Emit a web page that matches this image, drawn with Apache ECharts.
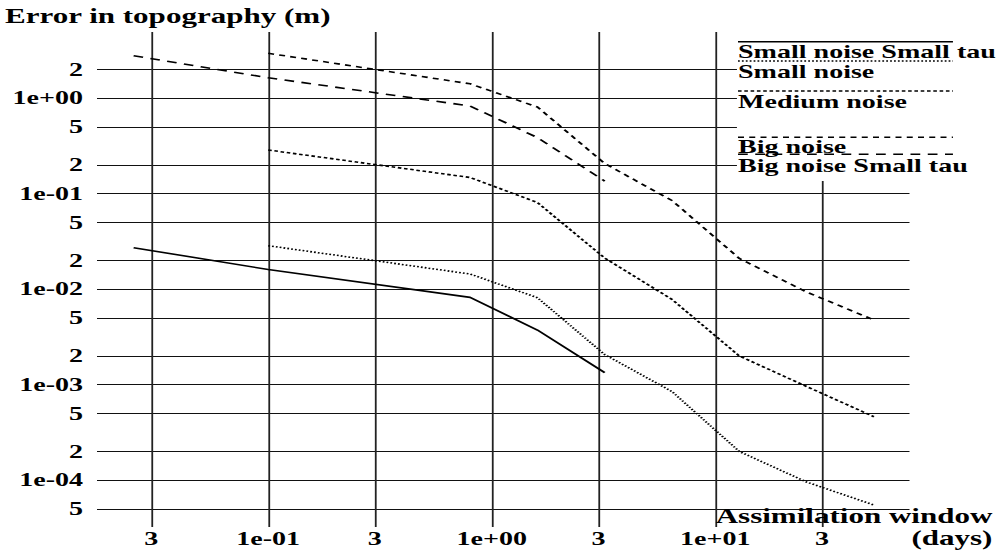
<!DOCTYPE html>
<html>
<head>
<meta charset="utf-8">
<script src="https://cdn.jsdelivr.net/npm/echarts@6/dist/echarts.min.js"></script>
<style>
  html, body { margin: 0; padding: 0; background: #fff; overflow: hidden; }
  /* the figure is laid out narrow and widened horizontally */
  #chart { width: 665.333px; height: 554px; transform: scaleX(1.5); transform-origin: 0 0; }
</style>
</head>
<body>
<div id="chart"></div>
<script>
// Assimilation window lengths (days)
const shortRunDays = [0.025, 0.1, 0.8, 1.6, 3.2];
const windowDays = [0.1, 0.8, 1.6, 3.2, 6.4, 12.8, 25.6, 51.2];

// Error in topography (m)
const smallNoiseSmallTau = [0.0271, 0.0160, 0.00818, 0.00372, 0.00133];
const smallNoise = [0.0284, 0.01436, 0.00811, 0.00206, 0.000844, 0.000199, 0.0000953, 0.0000547];
const mediumNoise = [0.2855, 0.1471, 0.0805, 0.0211, 0.00778, 0.00199, 0.000953, 0.00046];
const bigNoise = [2.94, 1.408, 0.805, 0.206, 0.0845, 0.0209, 0.0093, 0.00474];
const bigNoiseSmallTau = [2.77, 1.63, 0.825, 0.385, 0.135];

const seriesNames = ['Small noise Small tau', 'Small noise', 'Medium noise', 'Big noise', 'Big noise Small tau'];

// tick positions
const xTickValues = [0.03, 0.1, 0.3, 1, 3, 10, 30];
const yTickValues = [2, 1, 0.5, 0.2, 0.1, 0.05, 0.02, 0.01, 0.005, 0.002, 0.001, 0.0005, 0.0002, 0.0001, 0.00005];

const FONT = '"Liberation Serif", "Times New Roman", serif';

// "1e-02" for powers of ten, leading digit otherwise
function sciLabel(v) {
  const e = Math.floor(Math.log10(v) + 1e-9);
  const m = Math.round(v / Math.pow(10, e));
  if (m !== 1) return String(m);
  const a = Math.abs(e);
  return '1e' + (e < 0 ? '-' : '+') + (a < 10 ? '0' : '') + a;
}

const pairs = (xs, ys) => xs.map((x, i) => [x, ys[i]]);

const seriesData = [
  pairs(shortRunDays, smallNoiseSmallTau),
  pairs(windowDays, smallNoise),
  pairs(windowDays, mediumNoise),
  pairs(windowDays, bigNoise),
  pairs(shortRunDays, bigNoiseSmallTau)
];
const lineDashes = ['solid', [1.2, 1.4], [2.4, 1.8], [4, 3.5], [6.5, 5]];

const chart = echarts.init(document.getElementById('chart'), null, { renderer: 'svg' });

// legend: sample line drawn above each label
const legendLineY = [41.7, 61, 91, 137.3, 154.3];
const legendTextY = [52, 71.7, 101.7, 147, 166];
const legendLeft = 492, legendRight = 635.3;
const legendGraphics = [{
  type: 'rect', z: 100,
  shape: { x: 491.3, y: 28, width: 180, height: 153 },
  style: { fill: '#fff' }
}];
seriesNames.forEach((name, i) => {
  legendGraphics.push({
    type: 'line', z: 101,
    shape: { x1: legendLeft, y1: legendLineY[i], x2: legendRight, y2: legendLineY[i] },
    style: { stroke: '#000', lineWidth: 1.5, lineDash: lineDashes[i] === 'solid' ? null : lineDashes[i] }
  });
  legendGraphics.push({
    type: 'text', z: 102,
    x: legendLeft, y: legendTextY[i],
    style: {
      text: name, fill: '#000',
      fontFamily: FONT, fontWeight: 'bold', fontSize: 18.7,
      verticalAlign: 'middle', align: 'left'
    }
  });
});

chart.setOption({
  animation: false,
  backgroundColor: '#fff',
  title: {
    text: 'Error in topography (m)',
    left: 3.3, top: 5, padding: 0,
    textStyle: { fontFamily: FONT, fontWeight: 'bold', fontSize: 20.7, color: '#000' }
  },
  grid: {
    left: 64.667, right: 58.667, top: 32, bottom: 27,
    containLabel: false, outerBoundsMode: 'none'
  },
  xAxis: {
    type: 'log', logBase: 10,
    min: 0.017146, max: 73.88,
    name: 'Assimilation window\n(days)',
    nameLocation: 'end', nameGap: 55.3, nameMoveOverlap: false,
    nameTextStyle: {
      fontFamily: FONT, fontWeight: 'bold', fontSize: 20.7, color: '#000',
      align: 'right', verticalAlign: 'middle', lineHeight: 21.5, padding: [14, 0, 0, 0]
    },
    axisLine: { show: false },
    axisTick: { show: false, customValues: xTickValues },
    axisLabel: {
      customValues: xTickValues, formatter: sciLabel, margin: 2,
      fontFamily: FONT, fontWeight: 'bold', fontSize: 18.7, color: '#000'
    },
    splitLine: { show: true, lineStyle: { color: '#222', width: 1.2 } }
  },
  yAxis: {
    type: 'log', logBase: 10,
    min: 3.221e-5, max: 4.911,
    axisLine: { show: false },
    axisTick: { show: false, customValues: yTickValues },
    axisLabel: {
      customValues: yTickValues, formatter: sciLabel, margin: 9.3,
      fontFamily: FONT, fontWeight: 'bold', fontSize: 18.7, color: '#000'
    },
    splitLine: { show: true, lineStyle: { color: '#111', width: 1.2 } }
  },
  graphic: legendGraphics,
  series: seriesNames.map((name, i) => ({
    name: name,
    type: 'line',
    data: seriesData[i],
    symbol: 'none',
    silent: true,
    lineStyle: { color: '#000', width: 1.6, type: lineDashes[i] }
  }))
});
</script>
</body>
</html>
